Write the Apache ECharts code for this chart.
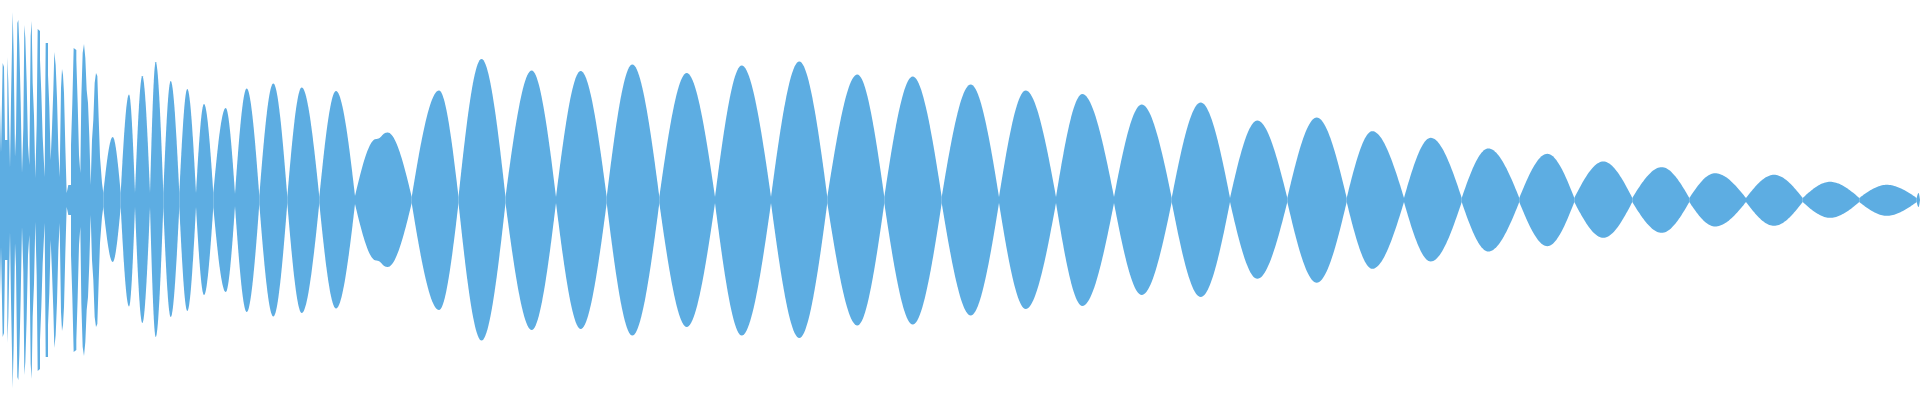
<!DOCTYPE html>
<html><head><meta charset="utf-8">
<script src="https://cdn.jsdelivr.net/npm/echarts@6/dist/echarts.min.js"></script>
<style>html,body{margin:0;padding:0;background:#fff}#c{width:1920px;height:400px}</style>
</head><body><div id="c"></div>
<script>
// Dense, spiky start of the waveform (x position, amplitude), mirrored above/below zero
const detailX = [0,1,2.67,4,5,7.33,8.33,10,11,12.67,13.67,15,16,17.33,18.33,19.33,20.67,22,23.33,24.33,25.33,26.67,28,29.33,30.67,31.67,32.67,34,35.33,36.67,37.67,39,40,41.33,42.67,44.67,45.67,48,49.33,50.67,52,53.33,54.33,55.67,57,58.33,59.67,61,62,63,64,65.33,66.67,68.33,71,72.33,73.67,75,76.33,77.67,79,80.33,81.33,82.67,84,85.33,86.67,88,89.33,90.67,92,93.33,94.67,96,97.33,98.67,100,101,102,103.3];
const detailAmp = [96,47,137,133,60,143,117,32,100,188,145,43,67,177,180,155,98,27,72,175,162,118,55,35,164,179,117,84,22,75,171,169,140,107,63,23,157,125,93,40,72,110,148,135,102,50,23,112,131,125,107,53,7,15,55,97,152,150,140,97,45,27,103,147,156,142,110,97,63,15,60,80,117,127,124,82,43,30,17,7];

// Lobes: zero crossings, their residual amplitude, and each lobe's peak
const crossX = [103.3,120.7,135,150,163.3,179.3,196,213.3,235,259.3,287.3,319.3,355,411.7,458.5,505.5,556,606.7,659.3,715,771,827.3,884.3,941.7,999,1056,1114,1171.7,1230,1287.3,1346.7,1404,1461.7,1519.3,1574.3,1632.3,1689.3,1746,1802.7,1859.3,1916.7,1920];
const crossAmp = [7,7,7,7,7,7,7,7,6,4,3,3,4,3,3,3,3,3,3,3,3,3,3,3,3,3,3,2,2,2,2,2,2,2,2,2,2,2,2,2,2,0];
const peakX = [112.7,129,142.3,155.7,170.7,187.3,204,225.7,246.7,273.3,301.7,336,387.7,439,481.5,531.7,580.7,632.3,686.7,741.7,799.3,857.3,912.7,970.7,1025.7,1082.3,1141.7,1200.7,1257.3,1316.7,1372.3,1430.7,1488.3,1547.3,1603.3,1661.7,1715,1774,1830,1886.7,1918.5];
const peakTop = [63,105.5,124,138,119,111,96,92,111.5,116.5,112.5,109,67.5,109.5,141,129.5,129,135.5,127,134.5,138.5,125.5,123.5,115.5,109.5,106,95.5,97.5,79.5,82.5,68.8,62.2,51.5,46.2,38.5,32.8,26.8,25.2,18.2,15.2,7];
const peakBottom = [62,106.5,123,137,117,111,95,92,112,116.5,113,108.5,67,110,140.5,130,129,135.5,127,135.5,138,125.5,124.5,115.5,109,106,95,97,78.8,82.8,68.8,61.5,51.5,46.2,37.8,32.8,26.5,25.8,17.8,15.8,7];
// Shoulder inside the odd-shaped lobe
const shoulderLobe = [12];
const shoulderX = [376];
const shoulderTop = [61];
const shoulderBottom = [60.5];

const COLOR = '#5dade2';

function detailData(sign) {
  return detailX.map((x, i) => [x, sign * detailAmp[i]]);
}
const lobeRows = peakX.map((x, i) => [crossX[i], x, crossX[i + 1], peakTop[i], peakBottom[i], crossAmp[i], crossAmp[i + 1], i]);

function cubic(p0, p1, p2, p3, t) { const u = 1 - t; return u*u*u*p0 + 3*u*u*t*p1 + 3*u*t*t*p2 + t*t*t*p3; }
const N = 24;
// lens-shaped flank from a crossing up to an interior point
function flank(xc, ac, xp, P) {
  const pts = [];
  for (let k = 0; k <= N; k++) {
    const t = k / N;
    pts.push([xc + (xp - xc) * t, ac + (P - ac) * cubic(0, 0.5236, 1, 1, t)]);
  }
  return pts;
}
// smooth S-curve between two interior points
function sCurve(xa, ya, xb, yb) {
  const pts = [];
  for (let k = 1; k <= N; k++) {
    const t = k / N;
    pts.push([xa + (xb - xa) * cubic(0, 0.5, 0.5, 1, t), ya + (yb - ya) * cubic(0, 0, 1, 1, t)]);
  }
  return pts;
}
function halfOutline(x0, a0, x1, a1, inner) {
  let pts = flank(x0, a0, inner[0][0], inner[0][1]);
  for (let j = 1; j < inner.length; j++) pts = pts.concat(sCurve(inner[j-1][0], inner[j-1][1], inner[j][0], inner[j][1]));
  const last = inner[inner.length - 1];
  pts = pts.concat(flank(x1, a1, last[0], last[1]).reverse().slice(1));
  return pts;
}

function renderLobe(params, api) {
  const x0 = api.value(0), xp = api.value(1), x1 = api.value(2);
  const top = api.value(3), bot = api.value(4), a0 = api.value(5), a1 = api.value(6), idx = api.value(7);
  const s = shoulderLobe.indexOf(idx);
  const innerTop = s >= 0 ? [[shoulderX[s], shoulderTop[s]], [xp, top]] : [[xp, top]];
  const innerBot = s >= 0 ? [[shoulderX[s], shoulderBottom[s]], [xp, bot]] : [[xp, bot]];
  const upper = halfOutline(x0, a0, x1, a1, innerTop).map(p => api.coord([p[0], p[1]]));
  const lower = halfOutline(x0, a0, x1, a1, innerBot).map(p => api.coord([p[0], -p[1]])).reverse();
  return {
    type: 'polygon',
    shape: { points: upper.concat(lower) },
    style: { fill: COLOR, stroke: null }
  };
}

const base = {
  type: 'line', showSymbol: false, symbol: 'none', silent: true,
  lineStyle: { width: 0, color: COLOR }, itemStyle: { color: COLOR },
  areaStyle: { color: COLOR, opacity: 1 }
};

const chart = echarts.init(document.getElementById('c'), null, { renderer: 'canvas' });
chart.setOption({
  animation: false,
  backgroundColor: '#ffffff',
  grid: { left: 0, right: 0, top: 0, bottom: 0 },
  xAxis: { type: 'value', min: 0, max: 1920, show: false },
  yAxis: { type: 'value', min: -200, max: 200, show: false },
  series: [
    Object.assign({}, base, { step: 'end', data: detailData(1) }),
    Object.assign({}, base, { step: 'end', data: detailData(-1) }),
    {
      type: 'custom', silent: true, renderItem: renderLobe,
      encode: { x: [0, 1, 2], y: [3, 4] },
      data: lobeRows
    }
  ]
});
</script>
</body></html>
